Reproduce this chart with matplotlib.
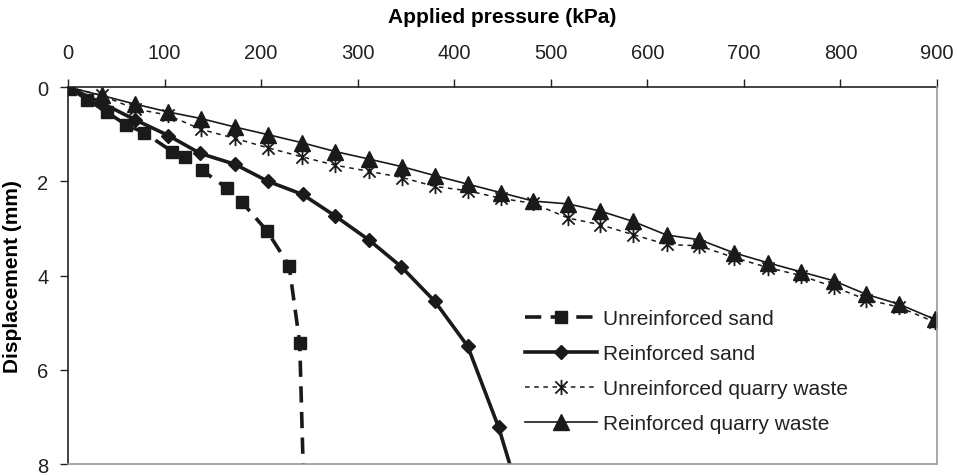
import matplotlib
matplotlib.use('Agg')
import matplotlib.pyplot as plt
from matplotlib.path import Path

plt.rcParams['font.family'] = ['Liberation Sans', 'DejaVu Sans']

# unreinforced sand
us_x = [0, 20, 40, 60, 79, 108, 121, 139, 165, 180, 206, 229, 240, 244]
us_y = [0, 0.27, 0.53, 0.8, 0.97, 1.37, 1.48, 1.77, 2.15, 2.44, 3.05, 3.79, 5.43, 8.4]

# reinforced sand
rs_x = [0, 34, 69, 104, 137, 173, 207, 243, 277, 312, 345, 380, 414, 446, 462]
rs_y = [0, 0.33, 0.69, 1.03, 1.41, 1.64, 2.0, 2.28, 2.74, 3.25, 3.81, 4.55, 5.5, 7.22, 8.3]

# quarry waste, both series share the same loads
qw_x = [0, 35, 69, 104, 138, 173, 207, 242, 277, 312, 346, 380, 414, 448,
        482, 518, 551, 585, 620, 654, 690, 725, 759, 793, 827, 861, 898]
uqw_y = [0, 0.18, 0.46, 0.6, 0.9, 1.09, 1.29, 1.48, 1.66, 1.79, 1.92, 2.11, 2.2, 2.36,
         2.47, 2.78, 2.92, 3.13, 3.34, 3.37, 3.62, 3.83, 4.0, 4.24, 4.51, 4.67, 4.99]
rqw_y = [0, 0.18, 0.36, 0.53, 0.67, 0.85, 1.01, 1.18, 1.37, 1.53, 1.69, 1.88, 2.06, 2.24,
         2.42, 2.48, 2.63, 2.85, 3.14, 3.24, 3.52, 3.73, 3.92, 4.11, 4.4, 4.61, 4.93]

labels = ['Unreinforced sand', 'Reinforced sand',
          'Unreinforced quarry waste', 'Reinforced quarry waste']
x_ticks = [0, 100, 200, 300, 400, 500, 600, 700, 800, 900]
y_ticks = [0, 2, 4, 6, 8]

# excel style star: vertical bar plus an X
star = Path([(0, -1), (0, 1), (-0.8, -0.8), (0.8, 0.8), (-0.8, 0.8), (0.8, -0.8)],
            [Path.MOVETO, Path.LINETO, Path.MOVETO, Path.LINETO, Path.MOVETO, Path.LINETO])

fig = plt.figure(figsize=(9.58, 4.77), dpi=100)
ax = fig.add_axes([0.071, 0.025, 0.907, 0.7905])

ax.plot(us_x, us_y, color='#1a1a1a', lw=2.6, ls=(0, (4.5, 2.6)), marker='s', ms=8,
        label=labels[0])
ax.plot(rs_x, rs_y, color='#1a1a1a', lw=2.6, ls='-', marker='D', ms=7,
        label=labels[1])
ax.plot(qw_x, uqw_y, color='#1a1a1a', lw=1.1, ls=(0, (3, 3)), marker=star, ms=11,
        mew=1.3, label=labels[2])
ax.plot(qw_x, rqw_y, color='#1a1a1a', lw=1.2, ls='-', marker='^', ms=12,
        label=labels[3])

ax.set_xlim(0, 900)
ax.set_ylim(8, 0)
ax.xaxis.tick_top()
ax.xaxis.set_label_position('top')
ax.set_xticks(x_ticks)
ax.set_yticks(y_ticks)
ax.tick_params(axis='both', direction='out', length=6, width=1, labelsize=14.5,
               colors='#222222')
ax.tick_params(axis='x', pad=12)
ax.tick_params(axis='y', pad=8)
ax.set_xlabel('Applied pressure (kPa)', fontsize=15, fontweight='bold', labelpad=15)
ax.set_ylabel('Displacement (mm)', fontsize=15, fontweight='bold', labelpad=11)

ax.spines['top'].set_color('#222222')
ax.spines['left'].set_color('#222222')
ax.spines['bottom'].set_color('#999999')
ax.spines['right'].set_color('#999999')
for s in ax.spines.values():
    s.set_linewidth(1.2)
for m in [ax.spines['top'], ax.spines['left']]:
    m.set_zorder(0)

leg = ax.legend(loc='upper left', bbox_to_anchor=(0.526, 0.41), frameon=False,
                fontsize=15, handlelength=3.45, handletextpad=0.3, labelspacing=0.76,
                borderaxespad=0, borderpad=0)
for t in leg.get_texts():
    t.set_color('#222222')

fig.savefig('out.png', dpi=100)
